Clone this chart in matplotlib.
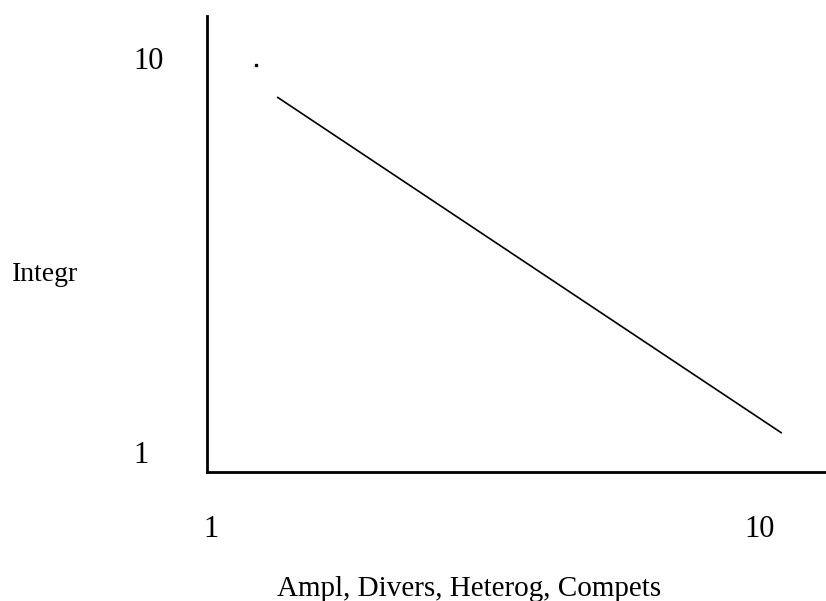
import matplotlib
matplotlib.use("Agg")
import matplotlib.pyplot as plt

# Data (log-log schematic)
line_x = [1.319, 10.96]
line_y = [8.49, 1.191]
dot_x = [1.208]
dot_y = [10.24]
x_ticks = [1, 10]
x_tick_labels = ["1", "10"]
y_ticks = [1, 10]
y_tick_labels = ["1", "10"]
x_label = "Ampl, Divers, Heterog, Compets"
y_label = "Integr"

W, H = 826, 601
fig = plt.figure(figsize=(W / 100, H / 100), dpi=100)
left, right, top, bottom = 207, 826, 16, 472
ax = fig.add_axes([left / W, (H - bottom) / H, (right - left) / W, (bottom - top) / H])
plt.rcParams['font.family'] = ['Liberation Serif', 'DejaVu Serif']

ax.set_xscale('log')
ax.set_yscale('log')
ax.set_xlim(0.983, 13.19)
ax.set_ylim(0.949, 13.63)

ax.plot(line_x, line_y, color='black', lw=1.2, solid_capstyle='butt')
ax.plot(dot_x, dot_y, marker='s', ms=1.4, color='black', lw=0)

for s in ['top', 'right']:
    ax.spines[s].set_visible(False)
for s in ['left', 'bottom']:
    ax.spines[s].set_linewidth(2.0)
    ax.spines[s].set_color('black')

fs = 22
ax.minorticks_off()
ax.set_xticks(x_ticks)
ax.set_xticklabels(x_tick_labels, fontsize=fs, family='Liberation Serif')
ax.set_yticks(y_ticks)
ax.set_yticklabels(y_tick_labels, fontsize=fs, family='Liberation Serif')
ax.tick_params(axis='both', length=0)
ax.tick_params(axis='x', pad=46.8)
ax.tick_params(axis='y', pad=53.3)
for t in ax.get_yticklabels():
    t.set_horizontalalignment('left')
    t.set_verticalalignment('baseline')
for t in ax.get_xticklabels():
    t.set_verticalalignment('baseline')

fig.text(277 / W, 1 - 596 / H, x_label, ha='left', va='baseline', fontsize=21, family='Liberation Serif')
fig.text(12 / W, 1 - 281 / H, y_label, ha='left', va='baseline', fontsize=20, family='Liberation Serif')

fig.savefig('out.png', dpi=100)
